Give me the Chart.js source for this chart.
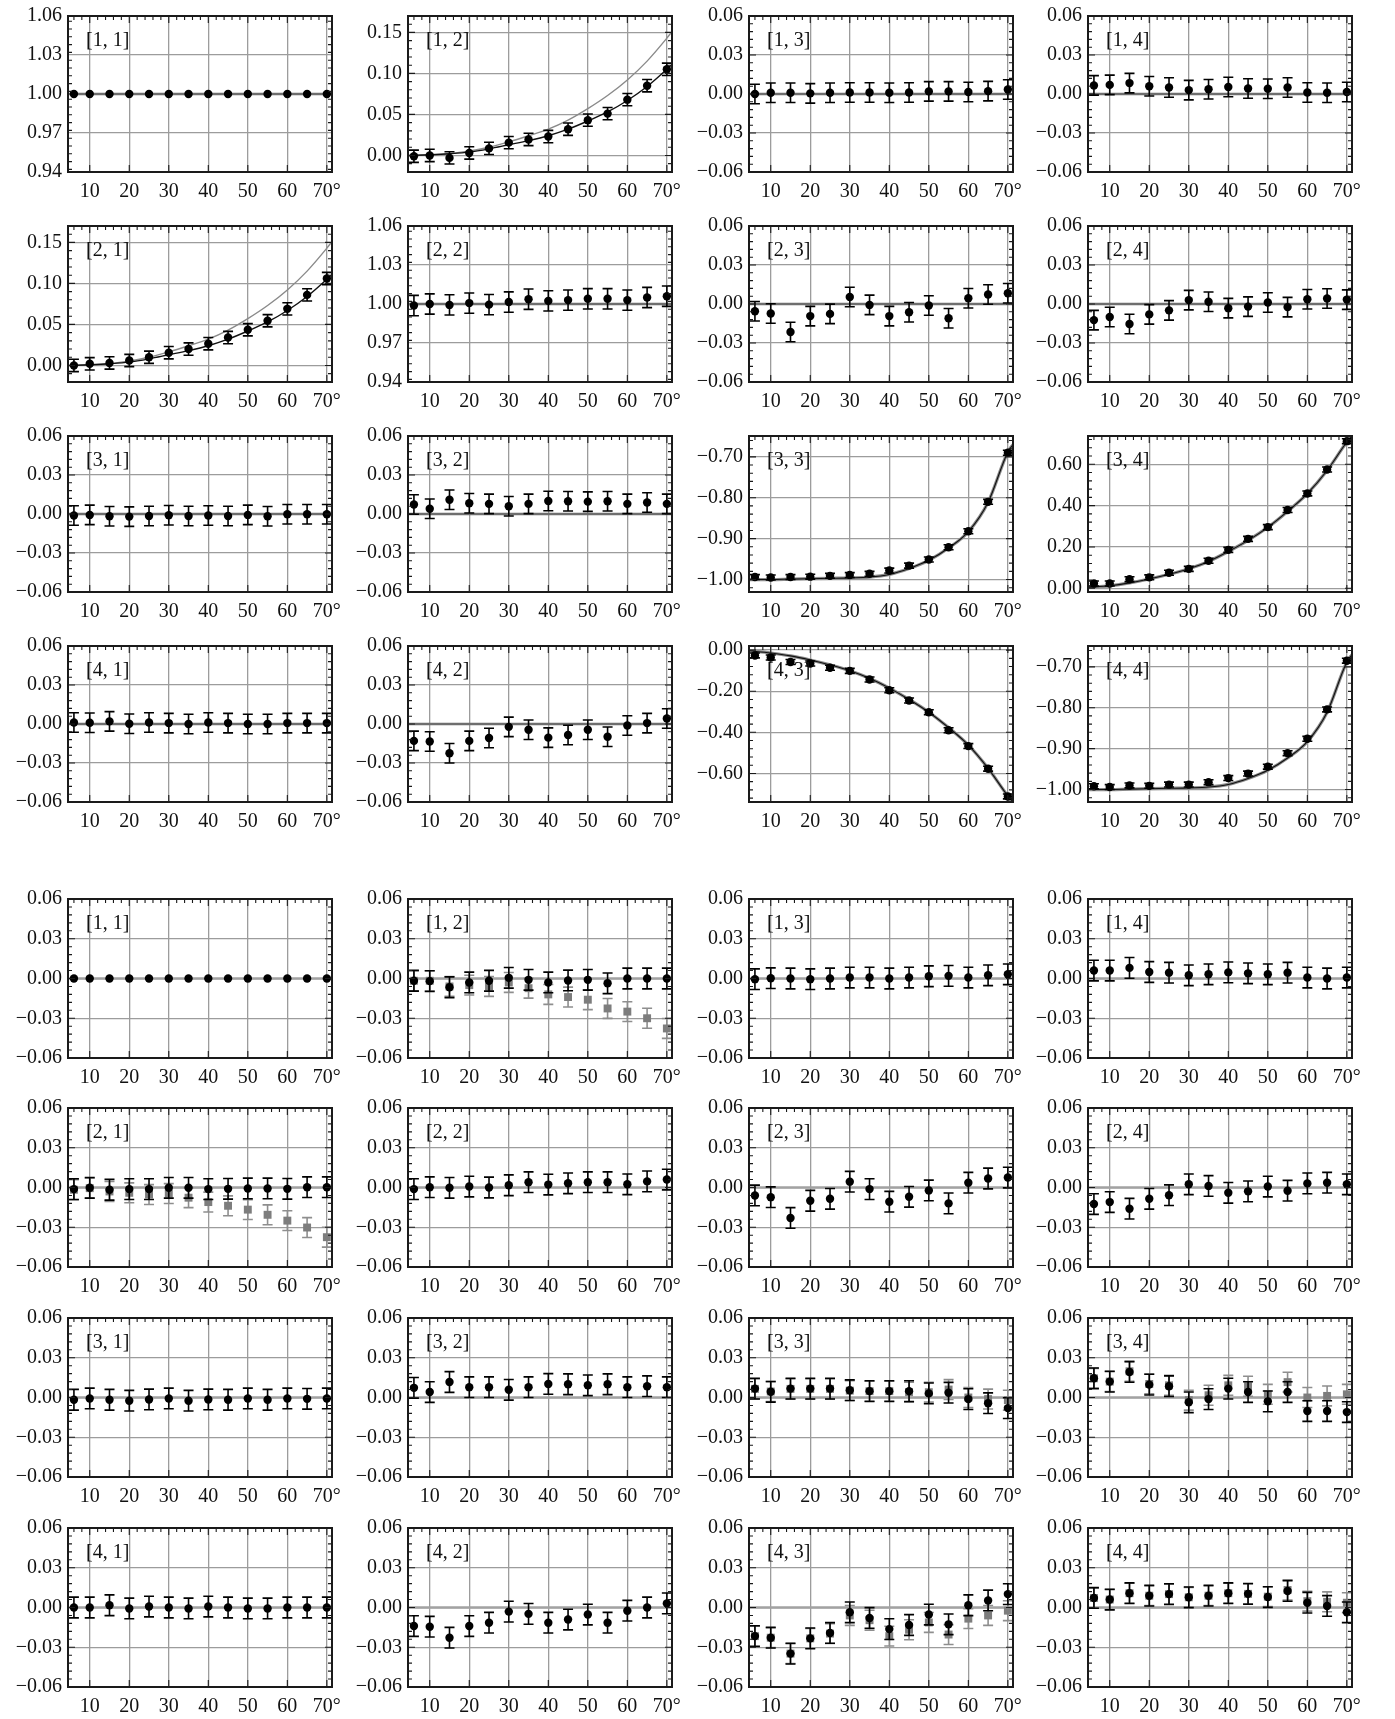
<!DOCTYPE html>
<html>
  <head>
    <title>Matrix elements vs angle</title>
    <style>
      body { margin: 0; background: #fff; }
      #fig { position: relative; width: 1395px; height: 1719px; background: #fff; }
      #fig canvas { position: absolute; }
    </style>
  </head>
  <body>
    <div id="fig"></div>
    <script src="https://cdn.jsdelivr.net/npm/chart.js@4/dist/chart.umd.min.js"></script>
    <script>
      // angles and ticks
      const angles = [6, 10, 15, 20, 25, 30, 35, 40, 45, 50, 55, 60, 65, 70];
      const xTicks = [10, 20, 30, 40, 50, 60, 70];
      const curveAngles = [4.5, 10, 15, 20, 25, 30, 35, 40, 45, 50, 55, 60, 65, 70, 71.3];
      const flatAngles = [4.5, 71.3];

      // y tick labels
      const zeroTicks = [-0.06, -0.03, 0, 0.03, 0.06];
      const unitTicks = [0.94, 0.97, 1.00, 1.03, 1.06];
      const smallTicks = [0, 0.05, 0.10, 0.15];
      const diagTicks = [-1.00, -0.90, -0.80, -0.70];
      const ticks34 = [0, 0.20, 0.40, 0.60];
      const ticks43 = [-0.60, -0.40, -0.20, 0];

      // upper block: measured points
      const a11 = [1, 1, 1, 1, 1, 1, 1, 1, 1, 1, 1, 1, 1, 1];
      const a12 = [-0.001, 0, -0.003, 0.003, 0.0086, 0.0156, 0.0195, 0.023, 0.032, 0.043, 0.051, 0.068, 0.085, 0.105];
      const a13 = [0, 0.001, 0.001, 0.0005, 0.001, 0.0012, 0.0012, 0.001, 0.0012, 0.002, 0.002, 0.0015, 0.0022, 0.0035];
      const a14 = [0.0066, 0.007, 0.0084, 0.006, 0.005, 0.003, 0.0037, 0.0054, 0.0042, 0.004, 0.005, 0.0012, 0.001, 0.0015];
      const a21 = [0, 0.002, 0.003, 0.006, 0.010, 0.0155, 0.020, 0.0265, 0.034, 0.0435, 0.0545, 0.069, 0.086, 0.106];
      const a22 = [0.9988, 1.0, 0.9993, 1.0007, 0.9995, 1.0015, 1.0037, 1.0024, 1.003, 1.004, 1.004, 1.003, 1.005, 1.006];
      const a23 = [-0.0056, -0.0073, -0.0215, -0.0093, -0.0076, 0.0054, -0.0007, -0.0093, -0.0063, -0.0012, -0.011, 0.0044, 0.0073, 0.0083];
      const a24 = [-0.0124, -0.010, -0.0154, -0.008, -0.0049, 0.003, 0.0017, -0.0032, -0.002, 0.0012, -0.0024, 0.0037, 0.0042, 0.0034];
      const a31 = [-0.0012, -0.0007, -0.0017, -0.002, -0.0015, -0.001, -0.0015, -0.0012, -0.0015, -0.0007, -0.0017, -0.0002, -0.0002, -0.0002];
      const a32 = [0.0073, 0.004, 0.011, 0.0083, 0.0078, 0.006, 0.0078, 0.010, 0.0098, 0.0095, 0.0098, 0.0078, 0.0088, 0.0078];
      const a33 = [-0.994, -0.995, -0.994, -0.993, -0.991, -0.989, -0.986, -0.978, -0.966, -0.951, -0.921, -0.882, -0.81, -0.69];
      const a34 = [0.023, 0.023, 0.044, 0.053, 0.075, 0.094, 0.133, 0.186, 0.239, 0.296, 0.379, 0.459, 0.575, 0.712];
      const a41 = [0.0012, 0.001, 0.002, 0.0002, 0.0012, 0.0007, 0, 0.0012, 0.0007, 0, 0, 0.0007, 0.0007, 0.0007];
      const a42 = [-0.013, -0.0135, -0.0225, -0.013, -0.0108, -0.0022, -0.0044, -0.0105, -0.0085, -0.0044, -0.0098, -0.0012, 0.0007, 0.0042];
      const a43 = [-0.026, -0.036, -0.058, -0.065, -0.086, -0.101, -0.143, -0.195, -0.245, -0.302, -0.39, -0.467, -0.577, -0.712];
      const a44 = [-0.992, -0.994, -0.99, -0.991, -0.988, -0.988, -0.982, -0.972, -0.961, -0.944, -0.911, -0.876, -0.804, -0.685];

      // upper block: model curves
      const unity = [1, 1];
      const zero = [0, 0];
      const c12gray = [0, 0.0005, 0.002, 0.0055, 0.010, 0.0165, 0.024, 0.032, 0.043, 0.057, 0.073, 0.092, 0.115, 0.143, 0.151];
      const c12black = [0, 0.0008, 0.002, 0.004, 0.008, 0.013, 0.018, 0.024, 0.032, 0.042, 0.053, 0.067, 0.084, 0.105, 0.111];
      const c33 = [-1.0, -1.0, -0.999, -0.998, -0.997, -0.996, -0.994, -0.9875, -0.973, -0.953, -0.923, -0.883, -0.811, -0.688, -0.67];
      const c34 = [0.004, 0.012, 0.026, 0.045, 0.068, 0.095, 0.13, 0.178, 0.232, 0.295, 0.372, 0.458, 0.57, 0.708, 0.737];
      const c43 = [-0.003, -0.014, -0.028, -0.048, -0.072, -0.1, -0.137, -0.185, -0.24, -0.302, -0.377, -0.462, -0.575, -0.71, -0.74];

      // lower block: black dots (b) and grey squares (g)
      const b11 = [0, 0, 0, 0, 0, 0, 0, 0, 0, 0, 0, 0, 0, 0];
      const b12 = [-0.0017, -0.002, -0.0066, -0.003, -0.0017, 0.0005, -0.001, -0.003, -0.0015, -0.001, -0.0036, 0, 0, 0];
      const g12 = [-0.0017, -0.0017, -0.006, -0.005, -0.006, -0.003, -0.0073, -0.012, -0.014, -0.016, -0.0226, -0.025, -0.030, -0.0377];
      const b13 = [-0.0005, 0.0002, 0, -0.0005, 0, 0.0007, 0.0007, 0, 0.0007, 0.0017, 0.002, 0.0007, 0.0024, 0.0032];
      const b14 = [0.006, 0.006, 0.008, 0.0049, 0.0044, 0.0024, 0.0032, 0.0046, 0.0039, 0.0032, 0.0044, 0.0007, 0, 0.0007];
      const b21 = [-0.0012, -0.0002, -0.0017, -0.0012, -0.0012, -0.0002, -0.0002, -0.0012, -0.001, -0.0007, -0.0007, -0.001, 0.0002, 0.0002];
      const g21 = [-0.0017, -0.0005, -0.003, -0.004, -0.0053, -0.0046, -0.0077, -0.011, -0.0138, -0.0167, -0.0206, -0.025, -0.0302, -0.0375];
      const b22 = [-0.0012, 0.0002, -0.0002, 0.0007, 0, 0.0017, 0.004, 0.0022, 0.0032, 0.004, 0.004, 0.0024, 0.0046, 0.006];
      const b23 = [-0.006, -0.0073, -0.023, -0.010, -0.0085, 0.0044, -0.0012, -0.0107, -0.007, -0.0022, -0.012, 0.0036, 0.0068, 0.0075];
      const b24 = [-0.0125, -0.011, -0.016, -0.0085, -0.0058, 0.0024, 0.0012, -0.004, -0.0029, 0.0007, -0.0024, 0.0031, 0.0036, 0.0024];
      const b31 = [-0.0017, -0.0007, -0.0017, -0.0024, -0.0015, -0.0007, -0.0024, -0.0015, -0.0017, -0.0007, -0.0017, -0.0007, -0.001, -0.0007];
      const b32 = [0.0073, 0.0041, 0.0117, 0.0078, 0.0078, 0.0058, 0.0078, 0.0102, 0.0100, 0.0092, 0.0100, 0.0078, 0.0085, 0.0078];
      const b33 = [0.0067, 0.0043, 0.0067, 0.0067, 0.0067, 0.0055, 0.0048, 0.0048, 0.0048, 0.0031, 0.0036, -0.0012, -0.0043, -0.008];
      const g33 = [0.0065, 0.0045, 0.0065, 0.0065, 0.0065, 0.0052, 0.0048, 0.0048, 0.004, 0.004, 0.006, 0, -0.0012, -0.002];
      const b34 = [0.0145, 0.012, 0.0193, 0.0097, 0.0085, -0.0036, -0.0012, 0.0067, 0.0041, -0.0029, 0.0041, -0.0102, -0.0102, -0.011];
      const g34 = [0.0145, 0.012, 0.0198, 0.0102, 0.0092, -0.002, 0.0017, 0.0092, 0.0085, 0.0024, 0.0116, 0, 0.0012, 0.0024];
      const b41 = [0, 0, 0.0017, -0.0007, 0.0007, 0, -0.0007, 0.0007, 0, -0.0007, -0.0007, 0, 0, 0];
      const b42 = [-0.014, -0.0145, -0.0228, -0.014, -0.0115, -0.0031, -0.0048, -0.0115, -0.0091, -0.0053, -0.0115, -0.0024, 0, 0.0031];
      const b43 = [-0.0216, -0.0228, -0.0348, -0.0233, -0.0192, -0.0036, -0.0079, -0.0163, -0.0132, -0.0053, -0.0127, 0.0017, 0.0053, 0.0101];
      const g43 = [-0.0216, -0.0228, -0.0348, -0.0233, -0.0197, -0.006, -0.0096, -0.0216, -0.0168, -0.0113, -0.0204, -0.0084, -0.006, -0.0024];
      const b44 = [0.0072, 0.006, 0.0108, 0.0089, 0.0101, 0.0077, 0.0089, 0.0108, 0.0103, 0.0079, 0.0125, 0.0036, 0.0012, -0.0036];
      const g44 = [0.0072, 0.006, 0.0108, 0.0089, 0.0101, 0.0077, 0.0089, 0.0108, 0.0103, 0.0082, 0.0132, 0.0048, 0.0043, 0.0036];

      // layout
      const FONT = '"Liberation Serif", "DejaVu Serif", serif';
      const colLeft = [68, 408, 749, 1088];
      const topRows = [10, 220, 430, 640];
      const botRows = [893, 1102, 1312, 1522];
      const PW = 264, TOP_H = 162, BOT_H = 165;
      const AXW = 70, AXH = 36, PADT = 12, PADR = 18;

      const dotStyle = { color: '#000', shape: 'circle', r: 4.2, errColor: '#000' };
      const sqStyle = { color: '#7d7d7d', shape: 'rect', r: 5.6, errColor: '#8e8e8e' };
      const flatTop = { color: '#6e6e6e', width: 2.6 };
      const flatBot = { color: '#a2a2a2', width: 2.4 };
      const thinGray = { color: '#8a8a8a', width: 1.4 };
      const thinBlack = { color: '#111', width: 1.4 };
      const thickGray = { color: '#8a8a8a', width: 3.2 };
      const fineBlack = { color: '#111', width: 1.1 };

      const zeroScale = { range: [-0.06, 0.06], ticks: zeroTicks, minor: 0.006 };
      const unitScale = { range: [0.94, 1.06], ticks: unitTicks, minor: 0.006 };
      const smallScale = { range: [-0.0202, 0.170], ticks: smallTicks, minor: 0.01 };
      const diagScale = { range: [-1.0305, -0.649], ticks: diagTicks, minor: 0.02 };
      const scale34 = { range: [-0.018, 0.737], ticks: ticks34, minor: 0.04 };
      const scale43 = { range: [-0.739, 0.02], ticks: ticks43, minor: 0.04 };

      const fl = (v, st) => ({ x: flatAngles, v, st });
      const cv = (v, st) => ({ x: curveAngles, v, st });

      const panels = [
        // upper block
        { top: true, r: 0, c: 0, sc: unitScale, pts: [[a11, dotStyle, 0]], lines: [fl(unity, flatTop)] },
        { top: true, r: 0, c: 1, sc: smallScale, pts: [[a12, dotStyle, 0.0075]], lines: [cv(c12gray, thinGray), cv(c12black, thinBlack)] },
        { top: true, r: 0, c: 2, sc: zeroScale, pts: [[a13, dotStyle, 0.0075]], lines: [fl(zero, flatTop)] },
        { top: true, r: 0, c: 3, sc: zeroScale, pts: [[a14, dotStyle, 0.0075]], lines: [fl(zero, flatTop)] },
        { top: true, r: 1, c: 0, sc: smallScale, pts: [[a21, dotStyle, 0.0075]], lines: [cv(c12gray, thinGray), cv(c12black, thinBlack)] },
        { top: true, r: 1, c: 1, sc: unitScale, pts: [[a22, dotStyle, 0.0078]], lines: [fl(unity, flatTop)] },
        { top: true, r: 1, c: 2, sc: zeroScale, pts: [[a23, dotStyle, 0.0075]], lines: [fl(zero, flatTop)] },
        { top: true, r: 1, c: 3, sc: zeroScale, pts: [[a24, dotStyle, 0.0075]], lines: [fl(zero, flatTop)] },
        { top: true, r: 2, c: 0, sc: zeroScale, pts: [[a31, dotStyle, 0.0075]], lines: [fl(zero, flatTop)] },
        { top: true, r: 2, c: 1, sc: zeroScale, pts: [[a32, dotStyle, 0.0075]], lines: [fl(zero, flatTop)] },
        { top: true, r: 2, c: 2, sc: diagScale, pts: [[a33, dotStyle, 0.006]], lines: [cv(c33, thickGray), cv(c33, fineBlack)] },
        { top: true, r: 2, c: 3, sc: scale34, pts: [[a34, dotStyle, 0.012]], lines: [cv(c34, thickGray), cv(c34, fineBlack)] },
        { top: true, r: 3, c: 0, sc: zeroScale, pts: [[a41, dotStyle, 0.0075]], lines: [fl(zero, flatTop)] },
        { top: true, r: 3, c: 1, sc: zeroScale, pts: [[a42, dotStyle, 0.0075]], lines: [fl(zero, flatTop)] },
        { top: true, r: 3, c: 2, sc: scale43, pts: [[a43, dotStyle, 0.012]], lines: [cv(c43, thickGray), cv(c43, fineBlack)] },
        { top: true, r: 3, c: 3, sc: diagScale, pts: [[a44, dotStyle, 0.006]], lines: [cv(c33, thickGray), cv(c33, fineBlack)] },
        // lower block
        { top: false, r: 0, c: 0, sc: zeroScale, pts: [[b11, dotStyle, 0]], lines: [fl(zero, flatBot)] },
        { top: false, r: 0, c: 1, sc: zeroScale, pts: [[b12, dotStyle, 0.0078], [g12, sqStyle, 0.0075]], lines: [fl(zero, flatBot)] },
        { top: false, r: 0, c: 2, sc: zeroScale, pts: [[b13, dotStyle, 0.0078]], lines: [fl(zero, flatBot)] },
        { top: false, r: 0, c: 3, sc: zeroScale, pts: [[b14, dotStyle, 0.0078]], lines: [fl(zero, flatBot)] },
        { top: false, r: 1, c: 0, sc: zeroScale, pts: [[b21, dotStyle, 0.0078], [g21, sqStyle, 0.0075]], lines: [fl(zero, flatBot)] },
        { top: false, r: 1, c: 1, sc: zeroScale, pts: [[b22, dotStyle, 0.0078]], lines: [fl(zero, flatBot)] },
        { top: false, r: 1, c: 2, sc: zeroScale, pts: [[b23, dotStyle, 0.0078]], lines: [fl(zero, flatBot)] },
        { top: false, r: 1, c: 3, sc: zeroScale, pts: [[b24, dotStyle, 0.0078]], lines: [fl(zero, flatBot)] },
        { top: false, r: 2, c: 0, sc: zeroScale, pts: [[b31, dotStyle, 0.0078]], lines: [fl(zero, flatBot)] },
        { top: false, r: 2, c: 1, sc: zeroScale, pts: [[b32, dotStyle, 0.0078]], lines: [fl(zero, flatBot)] },
        { top: false, r: 2, c: 2, sc: zeroScale, pts: [[b33, dotStyle, 0.0078], [g33, sqStyle, 0.0075]], lines: [fl(zero, flatBot)] },
        { top: false, r: 2, c: 3, sc: zeroScale, pts: [[b34, dotStyle, 0.0078], [g34, sqStyle, 0.0075]], lines: [fl(zero, flatBot)] },
        { top: false, r: 3, c: 0, sc: zeroScale, pts: [[b41, dotStyle, 0.0078]], lines: [fl(zero, flatBot)] },
        { top: false, r: 3, c: 1, sc: zeroScale, pts: [[b42, dotStyle, 0.0078]], lines: [fl(zero, flatBot)] },
        { top: false, r: 3, c: 2, sc: zeroScale, pts: [[b43, dotStyle, 0.0078], [g43, sqStyle, 0.0075]], lines: [fl(zero, flatBot)] },
        { top: false, r: 3, c: 3, sc: zeroScale, pts: [[b44, dotStyle, 0.0078], [g44, sqStyle, 0.0075]], lines: [fl(zero, flatBot)] }
      ];

      const fmt = v => v.toFixed(2).replace('-', '\u2212');

      // error bars go under their own markers
      const errorBars = {
        id: 'errorBars',
        beforeDatasetDraw(chart, args) {
          const ds = chart.data.datasets[args.index];
          if (!ds.err) return;
          const ctx = chart.ctx, y = chart.scales.y;
          ctx.save();
          ctx.strokeStyle = ds.errColor;
          ctx.lineWidth = 1.6;
          ctx.beginPath();
          args.meta.data.forEach((pt, i) => {
            const v = ds.data[i].y;
            const y1 = y.getPixelForValue(v + ds.err), y2 = y.getPixelForValue(v - ds.err);
            ctx.moveTo(pt.x, y1); ctx.lineTo(pt.x, y2);
            ctx.moveTo(pt.x - 5, y1); ctx.lineTo(pt.x + 5, y1);
            ctx.moveTo(pt.x - 5, y2); ctx.lineTo(pt.x + 5, y2);
          });
          ctx.stroke();
          ctx.restore();
        }
      };

      // frame, minor ticks and the [i, j] label
      const panelFrame = {
        id: 'panelFrame',
        afterDraw(chart, args, o) {
          const { ctx, chartArea: a, scales: { x, y } } = chart;
          ctx.save();
          ctx.strokeStyle = '#1a1a1a';
          ctx.lineWidth = 1.1;
          ctx.beginPath();
          for (let n = 3; n * 2 < x.max; n++) {
            const px = x.getPixelForValue(n * 2);
            const len = (n * 2) % 10 === 0 ? 7 : 4;
            ctx.moveTo(px, a.top); ctx.lineTo(px, a.top + len);
            if (len === 7) { ctx.moveTo(px, a.bottom); ctx.lineTo(px, a.bottom - len); }
          }
          const step = o.minor;
          for (let n = Math.ceil(y.min / step - 1e-6); n * step <= y.max + 1e-9; n++) {
            const v = n * step;
            const major = o.ticks.some(t => Math.abs(t - v) < step / 10);
            const len = major ? 7 : 4;
            const py = y.getPixelForValue(v);
            ctx.moveTo(a.left, py); ctx.lineTo(a.left + len, py);
            ctx.moveTo(a.right, py); ctx.lineTo(a.right - len, py);
          }
          ctx.stroke();
          ctx.lineWidth = 2;
          ctx.strokeRect(a.left, a.top, a.width, a.height);
          ctx.fillStyle = '#111';
          ctx.font = '20px ' + FONT;
          ctx.textBaseline = 'middle';
          ctx.fillText(o.label, a.left + 18, a.top + 25);
          ctx.restore();
        }
      };

      const fig = document.getElementById('fig');

      panels.forEach(p => {
        const h = p.top ? TOP_H : BOT_H;
        const left = colLeft[p.c], top = (p.top ? topRows : botRows)[p.r];
        const canvas = document.createElement('canvas');
        canvas.width = AXW + PW + PADR;
        canvas.height = PADT + h + AXH;
        canvas.style.left = (left - AXW) + 'px';
        canvas.style.top = (top - PADT) + 'px';
        fig.appendChild(canvas);

        const datasets = [];
        p.pts.forEach(([vals, st, err]) => {
          datasets.push({
            data: angles.map((a, i) => ({ x: a, y: vals[i] })),
            pointStyle: st.shape,
            pointRadius: st.r,
            backgroundColor: st.color,
            borderColor: st.color,
            borderWidth: 0,
            showLine: false,
            err: err,
            errColor: st.errColor
          });
        });
        // lines listed bottom-to-top, dataset 0 is drawn last
        p.lines.slice().reverse().forEach(l => {
          datasets.push({
            data: l.x.map((a, i) => ({ x: a, y: l.v[i] })),
            showLine: true,
            pointRadius: 0,
            borderColor: l.st.color,
            borderWidth: l.st.width,
            cubicInterpolationMode: 'monotone',
            fill: false
          });
        });

        const sc = p.sc;
        new Chart(canvas, {
          type: 'scatter',
          data: { datasets },
          options: {
            responsive: false,
            animation: false,
            events: [],
            layout: { padding: { top: PADT, right: PADR, left: 0, bottom: 0 }, autoPadding: false },
            plugins: {
              legend: { display: false },
              tooltip: { enabled: false },
              panelFrame: { label: '[' + (p.r + 1) + ', ' + (p.c + 1) + ']', minor: sc.minor, ticks: sc.ticks }
            },
            scales: {
              x: {
                type: 'linear',
                min: 4.5,
                max: 71.3,
                afterBuildTicks: s => { s.ticks = xTicks.map(v => ({ value: v })); },
                afterFit: s => { s.height = AXH; },
                border: { display: false },
                grid: { color: '#9c9c9c', lineWidth: 1.3, drawTicks: false },
                ticks: {
                  padding: 8,
                  color: '#111',
                  autoSkip: false,
                  maxRotation: 0,
                  font: { family: FONT, size: 20 },
                  callback: v => (v === 70 ? '70°' : String(v))
                }
              },
              y: {
                type: 'linear',
                min: sc.range[0],
                max: sc.range[1],
                afterBuildTicks: s => { s.ticks = sc.ticks.map(v => ({ value: v })); },
                afterFit: s => { s.width = AXW; },
                border: { display: false },
                grid: { color: '#9c9c9c', lineWidth: 1.3, drawTicks: false },
                ticks: {
                  padding: 6,
                  color: '#111',
                  autoSkip: false,
                  font: { family: FONT, size: 20 },
                  callback: v => fmt(v)
                }
              }
            }
          },
          plugins: [errorBars, panelFrame]
        });
      });
    </script>
  </body>
</html>
